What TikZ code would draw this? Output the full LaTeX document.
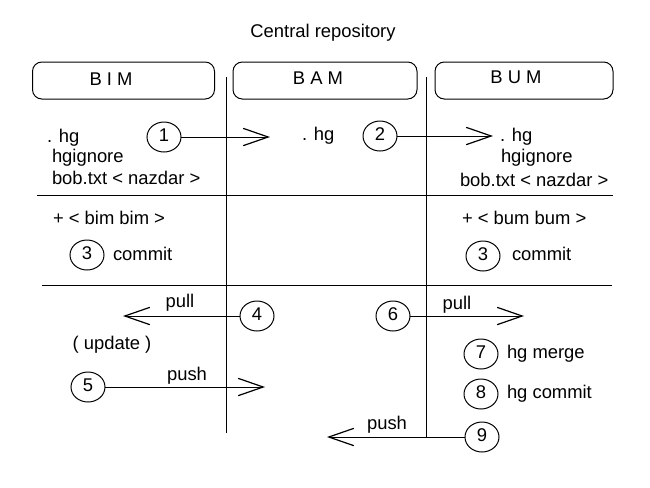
\documentclass[tikz,border=0pt]{standalone}
\usepackage{fontspec}
\setmainfont{Liberation Sans}
\usetikzlibrary{shapes.geometric,arrows.meta}
\begin{document}
\begin{tikzpicture}[x=0.75pt,y=-0.75pt,
  every node/.style={font=\fontsize{13.8pt}{16pt}\selectfont, inner sep=0pt, outer sep=0pt,
    text height=0.72em, text depth=0pt},
  lbl/.style={anchor=west},
  num/.style={draw, ellipse, minimum width=25.5pt, minimum height=22.5pt, line width=0.75pt},
  repo/.style={draw, rounded corners=7pt, line width=0.75pt, minimum height=27.75pt},
  wire/.style={line width=0.75pt},
  arr/.style={wire, -{Straight Barb[length=18.75pt, width=13pt, line width=0.9pt]}}]
\useasboundingbox (0,0) rectangle (650,487);
% title
\node (title) at (323,33) {Central repository};
% repository boxes
\node[repo, minimum width=136.5pt] (bimbox) at (123.5,80.5) {};
\node[repo, minimum width=138pt] (bambox) at (325,80.5) {};
\node[repo, minimum width=133.5pt] (bumbox) at (524,80.5) {};
\node (bim) at (111,81) {B I M};
\node (bam) at (318,80) {B A M};
\node (bum) at (516,79) {B U M};
% separators
\coordinate (v1t) at (226,77);
\coordinate (v1b) at (226,433);
\coordinate (v2t) at (426,77);
\coordinate (v2b) at (426,437);
\draw[wire] (v1t) -- (v1b);
\draw[wire] (v2t) -- (v2b);
\coordinate (h1a) at (37,195);
\coordinate (h1b) at (613,195);
\coordinate (h2a) at (42,285);
\coordinate (h2b) at (612,285);
\draw[wire] (h1a) -- (h1b);
\draw[wire] (h2a) -- (h2b);
% BIM column
\node[lbl] (bimhg) at (47,138) {. hg};
\node[lbl] (bimign) at (52,158) {hgignore};
\node[lbl] (bimbob) at (52,180) {bob.txt < nazdar >};
\node[lbl] (bimadd) at (53,220) {+ < bim bim >};
\node[num] (c3a) at (87,255) {3};
\node[lbl] (bimcommit) at (113,256) {commit};
\node (update) at (112,345) {( update )};
% BAM column
\node[lbl] (bamhg) at (302,136) {. hg};
% BUM column
\node[lbl] (bumhg) at (500,137) {. hg};
\node[lbl] (bumign) at (501,158) {hgignore};
\node[lbl] (bumbob) at (460,182) {bob.txt < nazdar >};
\node[lbl] (bumadd) at (462,220) {+ < bum bum >};
\node[num] (c3b) at (483,256) {3};
\node[lbl] (bumcommit) at (512,256) {commit};
\node[num] (c7) at (481,354) {7};
\node[lbl] (merge) at (507,354) {hg merge};
\node[num] (c8) at (481,394) {8};
\node[lbl] (hgcommit) at (507,394) {hg commit};
% steps with arrows
\node[num] (c1) at (164,137) {1};
\coordinate (t1) at (270,137);
\draw[arr] (c1) -- (t1);
\node[num] (c2) at (380,136) {2};
\coordinate (t2) at (493,136);
\draw[arr] (c2) -- (t2);
\node[num] (c4) at (257,316) {4};
\coordinate (t4) at (123,316);
\draw[arr] (c4) -- (t4);
\node (pull1) at (180,303) {pull};
\node[num] (c5) at (88,387) {5};
\coordinate (t5) at (265,387);
\draw[arr] (c5) -- (t5);
\node (push1) at (187,376) {push};
\node[num] (c6) at (393,316) {6};
\coordinate (t6) at (524,316);
\draw[arr] (c6) -- (t6);
\node (pull2) at (457,305) {pull};
\node[num] (c9) at (482,437) {9};
\coordinate (t9) at (327,437);
\draw[arr] (c9) -- (t9);
\node (push2) at (387,425) {push};
\end{tikzpicture}
\end{document}
